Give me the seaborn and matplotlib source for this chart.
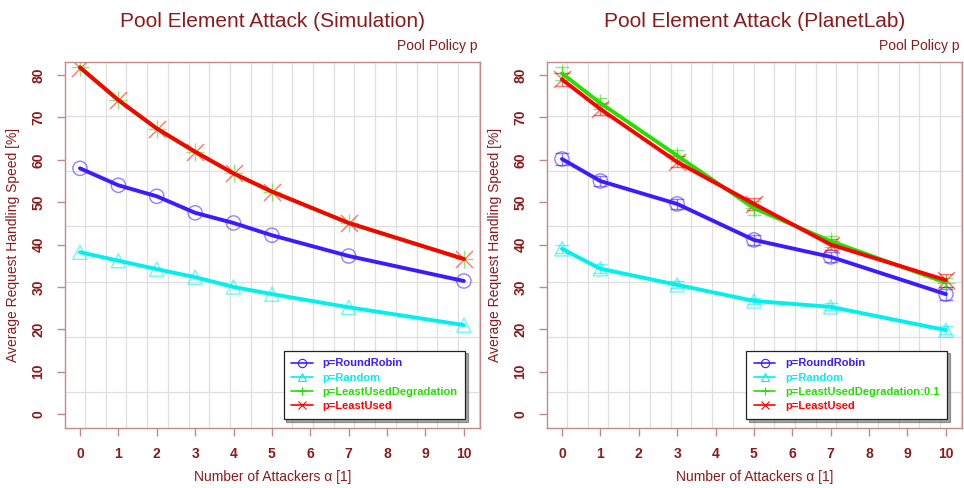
import numpy as np
import pandas as pd
import matplotlib
matplotlib.use("Agg")
import matplotlib.pyplot as plt
from matplotlib.lines import Line2D
from matplotlib.ticker import FixedLocator
import seaborn as sns

sns.set_theme(style="white")
plt.rcParams['font.family'] = ['Liberation Sans', 'DejaVu Sans']

# ---------------- data ----------------
sim_x = [0, 1, 2, 3, 4, 5, 7, 10]
sim_rr = [58.0, 54.0, 51.4, 47.5, 45.1, 42.2, 37.3, 31.4]
sim_random = [38.2, 36.2, 34.2, 32.3, 30.0, 28.3, 25.2, 21.0]
sim_lud = [81.9, 74.1, 67.4, 61.9, 56.8, 52.5, 45.1, 36.6]
sim_lu = [81.8, 74.1, 67.4, 61.9, 56.8, 52.5, 45.1, 36.6]

pl_x = [0, 1, 3, 5, 7, 10]
pl_rr = [60.2, 55.0, 49.6, 41.1, 37.1, 28.3]
pl_random = [39.0, 34.3, 30.5, 26.7, 25.3, 19.8]
pl_lud = [80.4, 73.4, 61.0, 48.6, 40.8, 31.0]
pl_lu = [79.0, 72.0, 59.5, 49.6, 40.0, 31.6]
pl_rr_err = [1.3, 1.2, 1.2, 1.2, 1.2, 1.3]
pl_random_err = [1.0, 1.0, 0.8, 0.8, 0.8, 1.0]
pl_lud_err = [1.6, 1.3, 1.3, 1.6, 1.3, 1.0]
pl_lu_err = [1.5, 1.3, 1.3, 1.5, 1.3, 1.5]

titles = ["Pool Element Attack (Simulation)", "Pool Element Attack (PlanetLab)"]
sim_labels = ["p=RoundRobin", "p=Random", "p=LeastUsedDegradation", "p=LeastUsed"]
pl_labels = ["p=RoundRobin", "p=Random", "p=LeastUsedDegradation:0.1", "p=LeastUsed"]
x_ticks = list(range(0, 11))
y_ticks = list(range(0, 81, 10))

# ---------------- style ----------------
colors = ["#3a1cff", "#00f0f0", "#22e000", "#ff0000"]
markers = ["o", "^", "+", "x"]
darkred = "#8b1a1a"
spine_col = "#c48a8a"
grid_col = "#e2dede"

fig = plt.figure(figsize=(9.64, 4.88), dpi=100)
axes = [fig.add_axes([65/964, 60/488, 415/964, 366/488]),
        fig.add_axes([547/964, 60/488, 415/964, 366/488])]

panels = [
    (sim_x, [sim_rr, sim_random, sim_lud, sim_lu], None, sim_labels),
    (pl_x, [pl_rr, pl_random, pl_lud, pl_lu],
     [pl_rr_err, pl_random_err, pl_lud_err, pl_lu_err], pl_labels),
]

for ax, title, (xs, series, errs, labels) in zip(axes, titles, panels):
    for i, (ys, lab) in enumerate(zip(series, labels)):
        df = pd.DataFrame({"x": xs, "y": ys})
        col = colors[i]
        sns.lineplot(data=df, x="x", y="y", ax=ax, color=col, linewidth=2.8,
                     zorder=3 + i * 0.1, errorbar=None)
        if markers[i] in ("o", "^"):
            sns.scatterplot(data=df, x="x", y="y", ax=ax, marker=markers[i], s=105,
                            facecolor="none", edgecolor=col, linewidth=1.0,
                            alpha=0.55, zorder=2.5)
        else:
            sns.scatterplot(data=df, x="x", y="y", ax=ax, marker=markers[i], s=150,
                            color=col, linewidth=1.0, alpha=0.55, zorder=2.5)
        if errs is not None:
            ax.errorbar(xs, ys, yerr=errs[i], fmt="none", ecolor=col, elinewidth=1.0,
                        capsize=5, capthick=1.0, alpha=0.55, zorder=2.4)

    ax.set_xlim(-0.39, 10.42)
    ax.set_ylim(-3.3, 83.1)
    ax.set_xticks(x_ticks)
    ax.set_yticks(y_ticks)
    ax.xaxis.set_minor_locator(FixedLocator(np.arange(0.13 - 0.54, 10.6, 0.54)))
    ax.yaxis.set_minor_locator(FixedLocator(np.arange(5.2 - 13.03, 84, 13.03)))
    ax.grid(False)
    ax.grid(True, which="minor", color=grid_col, linewidth=0.9, zorder=0)
    ax.tick_params(which="minor", length=0)
    ax.tick_params(which="major", direction="out", length=6, width=1.0,
                   color=spine_col, labelcolor=darkred, labelsize=10, pad=8,
                   bottom=True, left=True)
    for lab in ax.get_xticklabels() + ax.get_yticklabels():
        lab.set_fontweight("bold")
    for lab in ax.get_yticklabels():
        lab.set_rotation(90)
        lab.set_va("center")
    for sp in ax.spines.values():
        sp.set_color(spine_col)
        sp.set_linewidth(1.0)
    ax.set_xlabel("Number of Attackers α [1]", color=darkred, fontsize=10, labelpad=6)
    ax.set_ylabel("Average Request Handling Speed [%]", color=darkred, fontsize=10,
                  labelpad=8)
    ax.set_title(title, color=darkred, fontsize=15, pad=25)
    ax.text(0.995, 1.025, "Pool Policy p", transform=ax.transAxes, ha="right",
            va="bottom", color=darkred, fontsize=10)

    handles = [Line2D([0], [0], color=c, marker=m, markersize=6, linewidth=1.2,
                      markerfacecolor="none", markeredgewidth=0.8)
               for c, m in zip(colors, markers)]
    leg = ax.legend(handles, labels, loc="lower right",
                    bbox_to_anchor=(0.965, 0.025), frameon=True, fancybox=False,
                    shadow=True, fontsize=8, labelspacing=0.38, handlelength=1.9,
                    borderpad=0.7, handletextpad=0.9, borderaxespad=0)
    leg.get_frame().set_edgecolor("#222222")
    leg.get_frame().set_linewidth(0.9)
    for t, c in zip(leg.get_texts(), colors):
        t.set_color(c)
        t.set_fontweight("bold")
    leg.set_zorder(10)

fig.savefig("out.png", dpi=100)
